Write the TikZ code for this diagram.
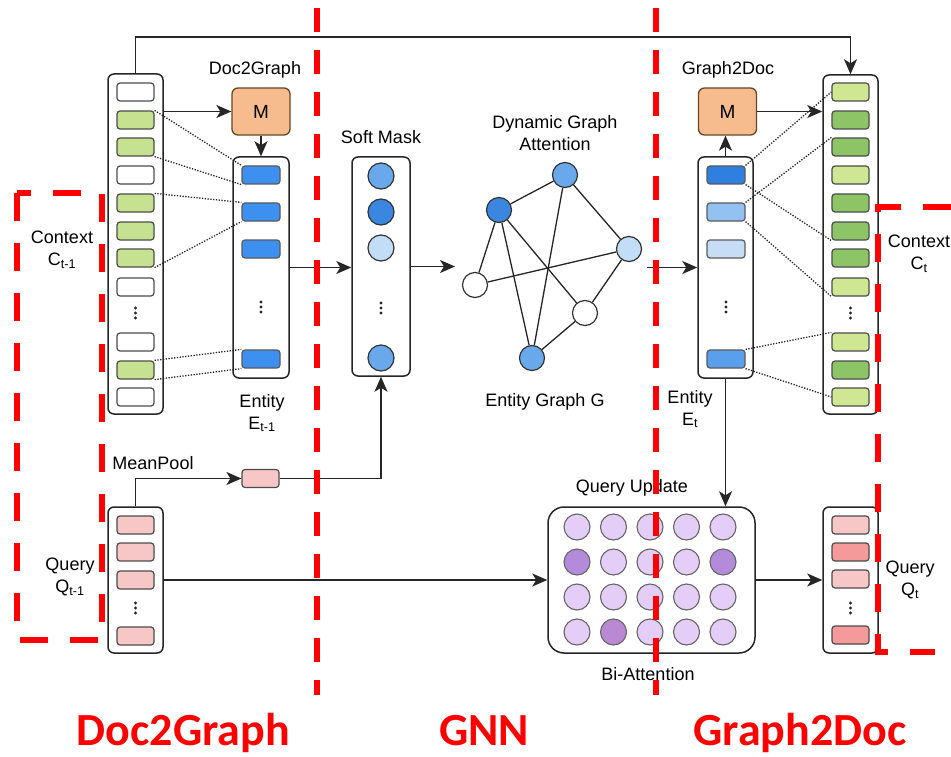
\documentclass[tikz,border=0pt]{standalone}
\usepackage{fontspec}
\setmainfont{Liberation Sans}
\newfontfamily\bannerfont{Carlito}
\usetikzlibrary{arrows.meta}

\definecolor{ctxgreen}{HTML}{C6E18F}
\definecolor{newlight}{HTML}{CFE793}
\definecolor{newdark}{HTML}{8CC466}
\definecolor{entblue}{HTML}{3D8FF0}
\definecolor{entdeep}{HTML}{2F7FE0}
\definecolor{entpale}{HTML}{93C2F2}
\definecolor{entpaler}{HTML}{C7DDF6}
\definecolor{entmid}{HTML}{5A9FEC}
\definecolor{maskmid}{HTML}{6AA8EC}
\definecolor{maskdeep}{HTML}{3B87E0}
\definecolor{maskpale}{HTML}{C4DDF6}
\definecolor{morange}{HTML}{F6BC8E}
\definecolor{qpink}{HTML}{F7C6C6}
\definecolor{qrose}{HTML}{F49A9A}
\definecolor{qlav}{HTML}{E4CDF6}
\definecolor{qdeep}{HTML}{B48BDB}
\definecolor{qdeepb}{HTML}{B98AD3}

\begin{document}
\begin{tikzpicture}[x=1pt,y=-1pt,
  outer/.style={draw=black!85, line width=1.5pt, rounded corners=6pt, inner sep=0pt},
  cell/.style={draw=black!70, line width=1.2pt, rounded corners=3pt,
    minimum width=37pt, minimum height=18pt, inner sep=0pt},
  ent/.style={cell, draw=black!65, minimum width=38pt},
  ball/.style={circle, draw=black!80, line width=1.2pt, minimum size=25pt, inner sep=0pt},
  qball/.style={circle, draw=black!60, line width=1.1pt, minimum size=26pt, inner sep=0pt},
  conn/.style={draw=black!85, line width=1.5pt, -{Stealth[length=15pt,width=13pt,inset=4pt]}},
  link/.style={draw=black!85, line width=1.3pt, dash pattern=on 1.3pt off 1.5pt},
  gedge/.style={draw=black!85, line width=1.3pt},
  mbox/.style={draw=brown!55!black, fill=morange, line width=1.3pt, rounded corners=6pt,
    minimum width=58pt, minimum height=47pt, inner sep=0pt, font=\fontsize{19}{19}\selectfont},
  lab/.style={font=\fontsize{18}{22}\selectfont, align=center, inner sep=0pt},
  cut/.style={draw=red, line width=6pt, dash pattern=on 24pt off 18pt},
  region/.style={draw=red, line width=6pt, dash pattern=on 28pt off 22pt},
  banner/.style={text=red, font=\bannerfont\bfseries\fontsize{46}{46}\selectfont, inner sep=0pt, anchor=base},
  vdts/.pic={\foreach \k in {-5,0,5} \fill[black!85] (0,\k) circle (1.7pt);}
]
\fill[white] (0,0) rectangle (951,757);
\path[use as bounding box] (0,0) rectangle (951,757);

% ---------- Doc2Graph: context C_{t-1} ----------
\node[outer, minimum width=55pt, minimum height=340pt] (ctxL) at (135.5,244) {};
\foreach \y/\c/\n in {92/white/1,120/ctxgreen/2,147/ctxgreen/3,175/white/4,203/ctxgreen/5,
  231/ctxgreen/6,258/ctxgreen/7,287/white/8,342/white/9,370/ctxgreen/10,397/white/11}
  \node[cell, fill=\c] (l\n) at (135.5,\y) {};
\pic at (135.5,313) {vdts};

% mask M
\node[mbox] (mL) at (261,111.5) {M};
\node[lab] (tDG) at (255,70) {Doc2Graph};

% entity E_{t-1}
\node[outer, minimum width=56pt, minimum height=221pt] (entL) at (261,267.5) {};
\foreach \y/\n in {175/1,212/2,249/3,359/4}
  \node[ent, fill=entblue] (e\n) at (261,\y) {};
\pic at (261,307) {vdts};
\node[lab] (tEL) at (262,413) {Entity\\E\textsubscript{t-1}};

% dotted correspondences
\draw[link] (l2.north east) -- (e1.north west);
\draw[link] (l3.south east) -- (e1.south west);
\draw[link] (l5.north east) -- (e2.north west);
\draw[link] (l7.south east) -- (e2.south west);
\draw[link] (l10.north east) -- (e4.north west);
\draw[link] (l10.south east) -- (e4.south west);

\node[lab] (tCL) at (62,250) {Context\\C\textsubscript{t-1}};

% query Q_{t-1}
\node[outer, minimum width=55pt, minimum height=146pt] (qL) at (135.5,580) {};
\foreach \y/\n in {525/1,552/2,580/3,636/4}
  \node[cell, fill=qpink] (q\n) at (135.5,\y) {};
\pic at (135.5,608) {vdts};
\node[lab] (tQL) at (70,577) {Query\\Q\textsubscript{t-1}};
\node[cell, fill=qpink] (pool) at (260.5,478.5) {};
\node[lab] (tMP) at (153,463) {MeanPool};

% ---------- GNN ----------
\node[outer, minimum width=58pt, minimum height=219pt] (mask) at (381,266.5) {};
\node[ball, minimum size=26pt, fill=maskmid] (s1) at (381,176) {};
\node[ball, minimum size=26pt, fill=maskdeep] (s2) at (381,212) {};
\node[ball, minimum size=26pt, fill=maskpale] (s3) at (381,248) {};
\node[ball, minimum size=26pt, fill=maskmid] (s4) at (381,358) {};
\pic at (381,308) {vdts};
\node[lab] (tSM) at (381,137) {Soft Mask};

\node[ball, fill=maskmid] (ga) at (565,175) {};
\node[ball, fill=maskdeep] (gb) at (499,210) {};
\node[ball, fill=maskpale] (gc) at (629,249) {};
\node[ball, fill=white] (gd) at (475,285) {};
\node[ball, fill=white] (ge) at (585,313) {};
\node[ball, fill=maskmid] (gf) at (532,358) {};
\foreach \p/\q in {gb/ga,ga/gc,gb/gd,gb/gf,gb/ge,ga/gf,gd/gc,gc/ge,ge/gf}
  \draw[gedge] (\p) -- (\q);
\node[lab] (tDGA) at (555,133) {Dynamic Graph\\Attention};
\node[lab] (tEG) at (545,402) {Entity Graph G};
\coordinate (gin) at (455,266.5);
\coordinate (gout) at (647,267.5);

% query update / bi-attention
\node[outer, rounded corners=16pt, minimum width=207pt, minimum height=146pt] (qu) at (651.5,580) {};
\foreach \yy/\cols in {527/{qlav,qlav,qlav,qlav,qlav},562/{qdeep,qlav,qlav,qlav,qdeep},
  597/{qlav,qlav,qlav,qlav,qlav},632/{qlav,qdeepb,qlav,qlav,qlav}}
  \foreach \cc [count=\i] in \cols
    \node[qball, fill=\cc] (u-\yy-\i) at ({577+36.5*(\i-1)},\yy) {};
\node[lab] (tQU) at (632,488) {Query Update};
\node[lab] (tBA) at (648,674) {Bi-Attention};

% ---------- Graph2Doc ----------
\node[outer, minimum width=55pt, minimum height=221pt] (entR) at (725.5,267.5) {};
\node[ent, fill=entdeep] (f1) at (726,175) {};
\node[ent, fill=entpale] (f2) at (726,212) {};
\node[ent, fill=entpaler] (f3) at (726,249) {};
\node[ent, fill=entmid] (f4) at (726,359) {};
\pic at (726,307) {vdts};
\node[lab] (tER) at (690,409) {Entity\\E\textsubscript{t}};

\node[mbox] (mR) at (727.5,111.5) {M};
\node[lab] (tGD) at (728,70) {Graph2Doc};

\node[outer, minimum width=55pt, minimum height=339pt] (ctxR) at (850.5,244.5) {};
\foreach \y/\c/\n in {92/newlight/1,120/newdark/2,147/newdark/3,175/newlight/4,203/newdark/5,
  231/newdark/6,258/newdark/7,287/newlight/8,342/newlight/9,370/newdark/10,397/newlight/11}
  \node[cell, fill=\c] (r\n) at (850.5,\y) {};
\pic at (850.5,313) {vdts};
\node[lab] (tCR) at (919,254) {Context\\C\textsubscript{t}};

\draw[link] (f1.north east) -- (r1.west);
\draw[link] (f1.south east) -- (r6.south west);
\draw[link] (f2.north east) -- (r3.north west);
\draw[link] (f2.south east) -- (r8.south west);
\draw[link] (f4.north east) -- (r9.north west);
\draw[link] (f4.south east) -- (r11.west);

\node[outer, minimum width=55pt, minimum height=146pt] (qR) at (850.5,580) {};
\node[cell, fill=qpink] (p1) at (850.5,525) {};
\node[cell, fill=qrose] (p2) at (850.5,552) {};
\node[cell, fill=qpink] (p3) at (850.5,579) {};
\node[cell, fill=qrose] (p4) at (850.5,635) {};
\pic at (850.5,608) {vdts};
\node[lab] (tQR) at (910,580) {Query\\Q\textsubscript{t}};

% ---------- connectors ----------
\draw[conn] (ctxL.north) -- (ctxL.north |- 0,37) -| (ctxR.north);
\draw[conn] (ctxL.east |- mL.west) -- (mL.west);
\draw[conn] (mL.south) -- (entL.north);
\draw[conn] (entL.east) -- (mask.west |- entL.east);
\draw[conn] (mask.east) -- (gin);
\draw[conn] (gout) -- (entR.west);
\draw[conn] (entR.north) -- (entR.north |- mR.south);
\draw[conn] (mR.east) -- (ctxR.west |- mR.east);
\draw[conn] (qL.north) |- (pool.west);
\draw[conn] (pool.east) -| (mask.south);
\draw[conn] (qL.east) -- (qu.west);
\draw[conn] (entR.south) -- (entR.south |- qu.north);
\draw[conn] (qu.east) -- (qR.west);

% ---------- stage boundaries ----------
\draw[cut] (317,8) -- (317,695);
\draw[cut] (656,8) -- (656,695);
\draw[region] (17,193) rectangle (102,640);
\draw[region] (951,207) -- (878,207) -- (878,652) -- (935,652);

\node[banner] (bD) at (183.5,745) {Doc2Graph};
\node[banner] (bG) at (484,745) {GNN};
\node[banner] (bC) at (800,745) {Graph2Doc};
\end{tikzpicture}
\end{document}
